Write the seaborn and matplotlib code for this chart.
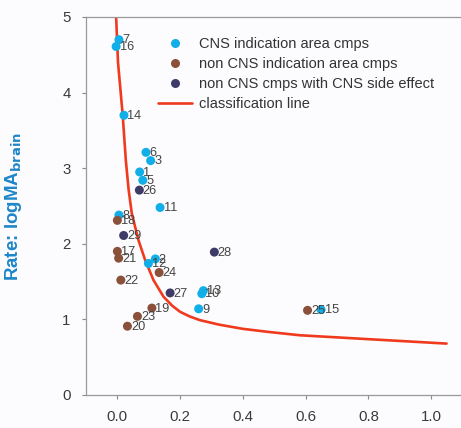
import numpy as np
import pandas as pd
import matplotlib
matplotlib.use("Agg")
import matplotlib.pyplot as plt
from matplotlib.lines import Line2D
import seaborn as sns

# ---- data ----
ids = ["1", "2", "3", "5", "6", "7", "8", "9", "10", "11", "12", "13", "14", "15", "16",
       "17", "18", "19", "20", "21", "22", "23", "24", "25",
       "26", "27", "28", "29"]
x_vals = [0.071, 0.121, 0.106, 0.081, 0.091, 0.005, 0.005, 0.259, 0.269, 0.136, 0.099, 0.274, 0.021, 0.649, -0.004,
          0.000, 0.000, 0.110, 0.032, 0.004, 0.011, 0.064, 0.133, 0.606,
          0.070, 0.168, 0.309, 0.020]
y_vals = [2.95, 1.80, 3.10, 2.84, 3.21, 4.70, 2.38, 1.14, 1.34, 2.48, 1.74, 1.38, 3.70, 1.13, 4.61,
          1.90, 2.31, 1.15, 0.91, 1.81, 1.52, 1.04, 1.62, 1.12,
          2.71, 1.35, 1.89, 2.11]
groups = (["CNS indication area cmps"] * 15
          + ["non CNS indication area cmps"] * 9
          + ["non CNS cmps with CNS side effect"] * 4)

line_x = [-0.004, 0.002, 0.017, 0.027, 0.036, 0.046, 0.067, 0.088, 0.115, 0.147, 0.175, 0.200,
          0.230, 0.263, 0.325, 0.400, 0.480, 0.582, 0.794, 1.049]
line_y = [5.00, 4.40, 3.70, 3.10, 2.71, 2.40, 2.05, 1.79, 1.52, 1.30, 1.18, 1.10,
          1.04, 0.99, 0.93, 0.875, 0.835, 0.79, 0.74, 0.68]

x_ticks = [0.0, 0.2, 0.4, 0.6, 0.8, 1.0]
y_ticks = [0, 1, 2, 3, 4, 5]

order = ["CNS indication area cmps", "non CNS indication area cmps",
         "non CNS cmps with CNS side effect"]
palette = {order[0]: "#12aee8", order[1]: "#8a5039", order[2]: "#3e3b68"}
line_color = "#f03a1e"
line_label = "classification line"

df = pd.DataFrame({"id": ids, "x": x_vals, "y": y_vals, "group": groups})
cl = pd.DataFrame({"x": line_x, "y": line_y})

sns.set_theme(style="white")
plt.rcParams["font.family"] = ["Liberation Sans", "DejaVu Sans"]
bg = "#fcfcfe"

fig = plt.figure(figsize=(4.61, 4.28), dpi=100, facecolor=bg)
ax = fig.add_axes([86 / 461, 33 / 428, 1 - 86 / 461, 378 / 428])
ax.set_facecolor(bg)

sns.lineplot(data=cl, x="x", y="y", sort=False, color=line_color, linewidth=1.9,
             ax=ax, legend=False, zorder=2)
sns.scatterplot(data=df, x="x", y="y", hue="group", hue_order=order, palette=palette,
                s=42, linewidth=0, ax=ax, legend=False, zorder=3)

for _, r in df.iterrows():
    ax.annotate(r["id"], (r["x"], r["y"]), xytext=(2.5, -0.5), textcoords="offset points",
                ha="left", va="center", fontsize=9.2, color="#444444", zorder=4)

ax.set_xlim(-0.1, 1.095)
ax.set_ylim(0, 5)
ax.set_xticks(x_ticks)
ax.set_xticklabels([f"{v:.1f}" for v in x_ticks])
ax.set_yticks(y_ticks)
ax.set_yticklabels([str(v) for v in y_ticks])
ax.tick_params(axis="both", which="major", direction="out", length=3, width=0.8,
               color="#888888", labelsize=10.8, labelcolor="#3a3a3a", pad=8,
               bottom=True, left=True)
ax.set_xlabel("")
ax.set_ylabel(r"Rate: logMA$_{\mathbf{brain}}$", color="#1e86c8", fontsize=13.5,
              fontweight="bold")
ax.yaxis.set_label_coords(-0.165, 0.5)

for s in ["left", "bottom", "top"]:
    ax.spines[s].set_color("#999999")
    ax.spines[s].set_linewidth(0.9)
ax.spines["right"].set_visible(False)

handles = [Line2D([], [], linestyle="none", marker="o", markersize=6.5,
                  markerfacecolor=palette[g], markeredgewidth=0) for g in order]
handles.append(Line2D([], [], color=line_color, linewidth=1.9))
leg = ax.legend(handles, order + [line_label], loc="upper left",
                bbox_to_anchor=((158 - 86) / 375, (395 - 37) / 378),
                frameon=False, fontsize=10.5, handlelength=2.3, handletextpad=0.5,
                labelspacing=0.42, borderaxespad=0, borderpad=0)
for t in leg.get_texts():
    t.set_color("#333333")

fig.savefig("out.png", dpi=100, facecolor=bg)
